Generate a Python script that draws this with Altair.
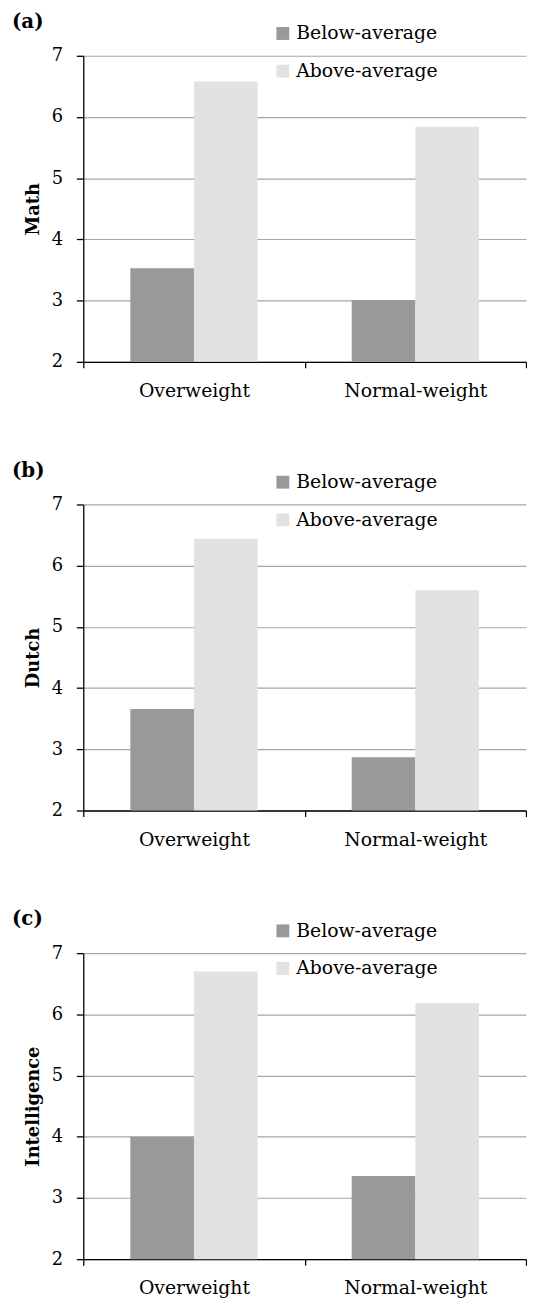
import altair as alt
import pandas as pd

groups = ["Overweight", "Normal-weight"]
series = ["Below-average", "Above-average"]
panel_labels = ["(a)", "(b)", "(c)"]
y_titles = ["Math", "Dutch", "Intelligence"]
math_below = [3.53, 3.01]
math_above = [6.58, 5.84]
dutch_below = [3.66, 2.87]
dutch_above = [6.44, 5.60]
intel_below = [4.00, 3.36]
intel_above = [6.70, 6.18]
y_ticks = [2, 3, 4, 5, 6, 7]
colors = ["#999999", "#e2e2e2"]

below = [math_below, dutch_below, intel_below]
above = [math_above, dutch_above, intel_above]

FONT = "DejaVu Serif"
W, H = 447, 309


def panel(i):
    rows = []
    for g, b, a in zip(groups, below[i], above[i]):
        rows.append({"group": g, "series": series[0], "value": b})
        rows.append({"group": g, "series": series[1], "value": a})
    df = pd.DataFrame(rows)
    title = alt.TitleParams(
        panel_labels[i], anchor="start", frame="group", dx=-72, offset=-8,
        font=FONT, fontSize=20, fontWeight="bold", color="black",
    )
    return alt.Chart(df, title=title).mark_bar().encode(
        x=alt.X(
            "group:N", sort=groups,
            scale=alt.Scale(paddingInner=0, paddingOuter=0),
            axis=alt.Axis(
                title=None, labelAngle=0, tickBand="extent", grid=False,
                tickSize=6, labelPadding=14, domainColor="black",
                tickColor="black", labelColor="black", labelFont=FONT,
                labelFontSize=19, domainWidth=1.3, tickWidth=1.3,
            ),
        ),
        xOffset=alt.XOffset(
            "series:N", sort=series,
            scale=alt.Scale(paddingInner=0, paddingOuter=0.74),
        ),
        y=alt.Y(
            "value:Q",
            scale=alt.Scale(domain=[2, 7], zero=False, nice=False),
            axis=alt.Axis(
                values=y_ticks, title=y_titles[i], grid=True,
                gridColor="#a6a6a6", gridWidth=1.2, tickSize=7,
                labelPadding=14, domainColor="black", tickColor="black",
                domainWidth=1.3, tickWidth=1.3,
                labelColor="black", labelFont=FONT, labelFontSize=18,
                titleFont=FONT, titleFontSize=18, titleFontWeight="bold",
                titleColor="black", titlePadding=9,
            ),
        ),
        y2=alt.datum(2),
        color=alt.Color(
            "series:N", sort=series,
            scale=alt.Scale(domain=series, range=colors),
            legend=alt.Legend(
                title=None, orient="none", legendX=192, legendY=-32,
                symbolType="square", symbolSize=169, symbolStrokeWidth=0,
                labelFont=FONT, labelFontSize=19, labelColor="black",
                rowPadding=18, labelOffset=4,
            ),
        ),
    ).properties(width=W, height=H)


chart = alt.vconcat(panel(0), panel(1), panel(2), spacing=61).resolve_legend(
    color="independent"
).resolve_scale(color="independent").configure_view(stroke=None).properties(
    padding={"left": 4, "right": 0, "top": -2, "bottom": 0}
)

chart.save("out.html", embed_options={"renderer": "svg", "actions": False})
